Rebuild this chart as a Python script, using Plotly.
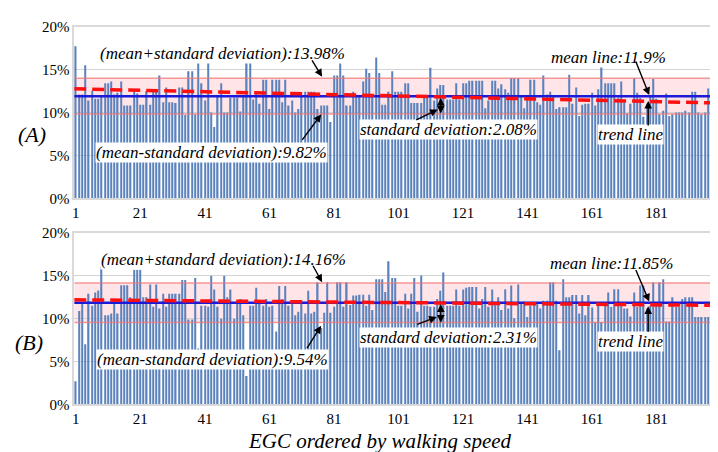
import plotly.graph_objects as go

# ---------------- data (in %) ----------------
panel_a = [17.7, 12.1, 12.1, 15.5, 11.4, 12.5, 11.6, 11.6, 11.9, 13.4,
           13.4, 13.6, 12.1, 12.3, 13.6, 10.8, 10.8, 10.8, 12.5, 12.2,
           10.9, 10.9, 12.5, 10.9, 12.4, 12.4, 14.3, 11.2, 12.9, 11.2,
           11.2, 11.1, 12.9, 12.9, 9.7, 14.8, 14.8, 9.8, 16.0, 13.4,
           11.4, 16.0, 10.0, 8.3, 11.9, 13.4, 10.0, 10.0, 11.7, 11.7,
           11.7, 10.1, 12.0, 16.0, 16.0, 11.5, 12.4, 11.0, 13.8, 13.8,
           10.4, 13.8, 13.8, 13.8, 11.2, 13.8, 10.8, 11.4, 10.0, 10.4,
           12.0, 12.4, 12.4, 12.4, 12.4, 10.4, 10.8, 10.8, 10.8, 8.9,
           14.3, 14.3, 16.0, 14.3, 10.8, 10.8, 12.4, 11.9, 12.0, 13.6,
           15.1, 14.6, 11.9, 16.4, 14.6, 10.9, 10.9, 12.4, 14.8, 12.4,
           12.4, 12.4, 13.4, 13.4, 11.1, 11.1, 11.1, 11.1, 11.9, 11.9,
           15.2, 11.4, 12.8, 13.2, 13.2, 11.5, 11.5, 11.5, 13.4, 11.5,
           13.4, 13.4, 13.7, 13.7, 13.7, 13.7, 13.7, 10.5, 11.4, 13.7,
           13.7, 12.8, 13.3, 12.7, 12.3, 14.0, 14.0, 14.0, 12.0, 10.5,
           11.7, 13.8, 13.8, 11.2, 10.9, 14.3, 12.1, 12.4, 11.9, 10.4,
           10.6, 10.6, 10.6, 14.4, 11.0, 12.9, 9.6, 10.9, 11.0, 11.0,
           12.3, 10.8, 12.7, 15.5, 13.4, 13.4, 13.4, 13.4, 11.7, 13.6,
           11.2, 9.9, 11.0, 14.0, 12.3, 11.7, 9.5, 11.0, 12.0, 13.9,
           11.6, 9.8, 10.2, 12.2, 9.6, 9.8, 10.0, 10.0, 10.0, 10.2,
           10.0, 12.4, 12.4, 10.0, 9.8, 10.0, 12.8, 12.8, 10.0, 8.0]

panel_b = [2.7, 10.9, 11.9, 7.0, 12.9, 11.5, 13.05, 13.3, 16.0, 10.4,
           10.4, 10.6, 12.0, 10.6, 13.9, 13.9, 13.9, 12.5, 15.7, 15.7,
           15.7, 12.5, 12.5, 14.0, 11.4, 14.0, 11.2, 12.9, 11.4, 12.9,
           12.9, 12.9, 12.9, 14.5, 14.5, 9.9, 9.9, 14.75, 6.5, 11.5,
           11.5, 11.4, 15.0, 13.4, 11.4, 10.0, 15.0, 12.5, 13.4, 10.0,
           12.1, 12.3, 10.4, 3.3, 11.5, 11.5, 13.6, 11.9, 11.5, 12.3,
           11.4, 11.5, 8.5, 13.8, 12.3, 13.8, 11.5, 11.9, 10.4, 10.8,
           11.9, 10.6, 13.25, 10.6, 10.8, 14.26, 8.9, 10.7, 14.26, 10.7,
           11.4, 14.26, 14.26, 11.4, 14.26, 11.6, 12.7, 12.7, 12.8, 12.8,
           11.5, 12.8, 11.0, 14.6, 14.6, 14.6, 13.1, 16.7, 14.75, 14.75,
           11.5, 11.5, 12.9, 11.2, 12.9, 14.75, 10.8, 15.05, 11.5, 11.5,
           11.4, 11.4, 12.3, 13.25, 15.4, 11.5, 11.5, 11.5, 13.4, 11.5,
           13.4, 13.6, 13.7, 13.7, 13.7, 11.2, 12.3, 13.7, 11.4, 13.4,
           11.9, 12.5, 11.0, 13.43, 11.2, 13.88, 10.05, 14.0, 11.9, 12.0,
           10.2, 11.5, 11.9, 11.9, 11.2, 12.1, 12.1, 14.26, 14.26, 12.1,
           6.3, 14.6, 12.5, 12.5, 12.76, 12.76, 10.6, 12.76, 10.4, 12.76,
           11.3, 9.6, 11.5, 9.6, 11.5, 13.06, 11.37, 13.43, 13.43, 11.75,
           11.2, 11.2, 10.25, 13.06, 11.37, 13.88, 13.88, 11.2, 11.5, 14.26,
           11.9, 14.26, 14.6, 9.68, 9.68, 12.5, 11.37, 11.37, 12.3, 12.5,
           12.5, 12.5, 10.2, 10.2, 10.2, 10.2, 10.2, 10.2, 10.2, 13.1]

# statistics shown in the annotations
mean_a, sd_a = 11.9, 2.08
mean_b, sd_b = 11.85, 2.31
upper_a, lower_a = 13.98, 9.82
upper_b, lower_b = 14.16, 9.54
# trend line values at the left and right edge of each panel
trend_a = [12.75, 11.1]
trend_b = [12.2, 11.55]

x_ticks = [1, 21, 41, 61, 81, 101, 121, 141, 161, 181]
y_ticks = [0, 5, 10, 15, 20]
y_ticktext = ["0%", "5%", "10%", "15%", "20%"]

# ---------------- figure ----------------
W, H = 718, 452
SERIF = "Liberation Serif"
BAR = "#5a82bd"
n_a = len(panel_a)
n_b = len(panel_b)
xs_a = list(range(1, n_a + 1))
xs_b = list(range(1, n_b + 1))
x_lo, x_hi = 0.5, 200.5

fig = go.Figure()
fig.add_trace(go.Bar(x=xs_a, y=panel_a, marker=dict(color=BAR, line=dict(width=0)),
                     xaxis="x", yaxis="y", showlegend=False))
fig.add_trace(go.Bar(x=xs_b, y=panel_b, marker=dict(color=BAR, line=dict(width=0)),
                     xaxis="x2", yaxis="y2", showlegend=False))

for xa, ya, m, tr in (("x", "y", mean_a, trend_a), ("x2", "y2", mean_b, trend_b)):
    fig.add_trace(go.Scatter(x=[x_lo, x_hi], y=[m, m], mode="lines",
                             line=dict(color="#1a1ad8", width=2.5),
                             xaxis=xa, yaxis=ya, showlegend=False))
    fig.add_trace(go.Scatter(x=[x_lo, x_hi], y=tr, mode="lines",
                             line=dict(color="#ff1010", width=3.5, dash="12px,6px"),
                             xaxis=xa, yaxis=ya, showlegend=False))

shapes = []
for xr, yr, lo, hi in (("x", "y", lower_a, upper_a), ("x2", "y2", lower_b, upper_b)):
    shapes.append(dict(type="rect", xref=xr, yref=yr, x0=x_lo, x1=x_hi, y0=lo, y1=hi,
                       fillcolor="rgba(255,150,160,0.25)", line=dict(width=0), layer="below"))
    for v in (lo, hi):
        shapes.append(dict(type="line", xref=xr, yref=yr, x0=x_lo, x1=x_hi, y0=v, y1=v,
                           line=dict(color="rgba(240,120,120,0.75)", width=1.5), layer="above"))

def px(x):
    return x / W

def py(y):
    return 1 - y / H

ann = []

def txt(x, y, s, size=17, italic=True):
    ann.append(dict(xref="paper", yref="paper", x=px(x), y=py(y),
                    text=f"<i>{s}</i>" if italic else s, showarrow=False,
                    font=dict(family=SERIF, size=size, color="black"),
                    bgcolor="white", borderpad=0, xanchor="center", yanchor="middle"))

def arrow(hx, hy, tx, ty, both=False):
    ann.append(dict(xref="paper", yref="paper", x=px(hx), y=py(hy), text="",
                    showarrow=True, axref="pixel", ayref="pixel", ax=tx - hx, ay=ty - hy,
                    arrowhead=2, arrowsize=1.1, arrowwidth=1.4, arrowcolor="black",
                    arrowside="end+start" if both else "end", startarrowhead=2,
                    startarrowsize=1.1, standoff=0, startstandoff=0))

# panel A
txt(213, 39, "(mean+standard deviation):13.98%")
arrow(313, 63, 302, 45)
txt(202, 142, "(mean-standard deviation):9.82%")
arrow(312, 102, 292, 129)
txt(440, 118, "standard deviation:2.08%")
arrow(429, 97, 406, 108)
arrow(432, 101, 432, 84, both=True)
txt(600, 43, "mean line:11.9%")
arrow(641, 82, 627, 47)
txt(622, 123, "trend line")
arrow(640, 88, 640, 114)

# panel B
txt(214, 252, "(mean+standard deviation):14.16%")
arrow(313, 276, 303, 258)
txt(203, 356, "(mean-standard deviation):9.54%")
arrow(312, 321, 297, 345)
txt(440, 333, "standard deviation:2.31%")
arrow(428, 312, 407, 320)
arrow(432, 318, 432, 298, both=True)
txt(603, 257, "mean line:11.85%")
arrow(641, 296, 627, 263)
txt(622, 337, "trend line")
arrow(640, 301, 640, 328)

# panel labels and axis title
txt(22, 123, "(A)", size=22)
txt(19, 338, "(B)", size=22)
ann.append(dict(xref="paper", yref="paper", x=px(371), y=py(426.5),
                text="<i>EGC ordered by walking speed</i>", showarrow=False,
                font=dict(family=SERIF, size=21, color="black"),
                xanchor="center", yanchor="top"))

xdom = [64.4 / W, 711.5 / W]
common_x = dict(domain=xdom, range=[x_lo, x_hi], tickmode="array", tickvals=x_ticks,
                ticktext=[str(v) for v in x_ticks], showgrid=False, zeroline=False,
                showline=True, mirror=True, linecolor="#d9d9d9", linewidth=1.5,
                ticks="", tickfont=dict(family=SERIF, size=15, color="black"))
common_y = dict(range=[0, 20], tickmode="array", tickvals=y_ticks, ticktext=y_ticktext,
                showgrid=True, gridcolor="#d4d4d4", gridwidth=1, zeroline=False,
                showline=True, mirror=True, linecolor="#d9d9d9", linewidth=1.5,
                ticks="", tickfont=dict(family=SERIF, size=15, color="black"))

fig.update_layout(
    width=W, height=H, margin=dict(l=0, r=0, t=0, b=0),
    paper_bgcolor="white", plot_bgcolor="white",
    bargap=0.6, showlegend=False,
    font=dict(family=SERIF),
    xaxis=dict(**common_x, anchor="y"),
    yaxis=dict(**common_y, domain=[1 - 189 / H, 1 - 11 / H], anchor="x"),
    xaxis2=dict(**common_x, anchor="y2"),
    yaxis2=dict(**common_y, domain=[1 - 402.5 / H, 1 - 225 / H], anchor="x2"),
    shapes=shapes, annotations=ann,
)

fig.write_html("out.html")
